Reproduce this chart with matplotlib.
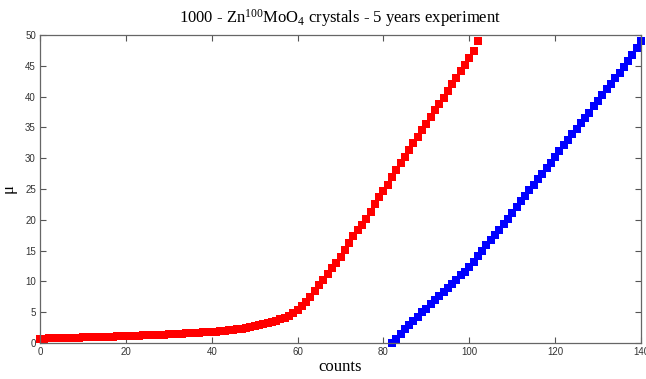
import matplotlib
matplotlib.use("Agg")
import matplotlib.pyplot as plt

# red series: counts 0..102
red_x = list(range(0, 103))
red_y = [0.70, 0.72, 0.74, 0.76, 0.78, 0.80, 0.82, 0.84, 0.86, 0.88,
         0.90, 0.92, 0.94, 0.96, 0.98, 1.00, 1.02, 1.04, 1.06, 1.08,
         1.10, 1.13, 1.16, 1.19, 1.22, 1.25, 1.28, 1.31, 1.34, 1.37,
         1.40, 1.44, 1.48, 1.52, 1.56, 1.60, 1.64, 1.68, 1.72, 1.76,
         1.80, 1.86, 1.92, 1.98, 2.04, 2.10, 2.20, 2.30, 2.42, 2.55,
         2.70, 2.86, 3.03, 3.21, 3.40, 3.60, 3.85, 4.10, 4.40, 4.85,
         5.40, 6.00, 6.70, 7.50, 8.40, 9.40, 10.3, 11.2, 12.1, 13.0,
         14.0, 15.1, 16.2, 17.3, 18.3, 19.2, 20.2, 21.3, 22.5, 23.7,
         24.7, 25.7, 26.9, 28.1, 29.2, 30.2, 31.3, 32.4, 33.5, 34.6,
         35.6, 36.7, 37.8, 38.8, 39.8, 40.9, 42.0, 43.1, 44.1, 45.2,
         46.3, 47.4, 49.0]

# blue series: counts 82..140
blue_x = list(range(82, 141))
blue_y = [0.0, 0.6, 1.5, 2.3, 3.0, 3.6, 4.3, 5.0, 5.6, 6.3,
          6.9, 7.6, 8.3, 8.9, 9.6, 10.3, 11.0, 11.6, 12.4, 13.2,
          14.1, 15.0, 15.9, 16.8, 17.6, 18.4, 19.3, 20.2, 21.1, 22.0,
          23.0, 23.9, 24.8, 25.7, 26.6, 27.4, 28.4, 29.3, 30.2, 31.2,
          32.1, 33.0, 33.9, 34.8, 35.7, 36.5, 37.4, 38.4, 39.3, 40.2,
          41.2, 42.1, 43.0, 43.9, 44.8, 45.7, 46.8, 47.9, 49.0]

xticks = [0, 20, 40, 60, 80, 100, 120, 140]
yticks = [0, 5, 10, 15, 20, 25, 30, 35, 40, 45, 50]

plt.rcParams["mathtext.fontset"] = "custom"
plt.rcParams["mathtext.rm"] = "Liberation Serif"
plt.rcParams["mathtext.it"] = "Liberation Serif"

fig = plt.figure(figsize=(6.46, 3.79), dpi=100)
ax = fig.add_axes([40 / 646, 36 / 379, 601 / 646, 308 / 379])

ax.plot(red_x, red_y, "s", color="#ff0000", markersize=5.2, markeredgewidth=0, clip_on=False)
ax.plot(blue_x, blue_y, "s", color="#0000ff", markersize=5.2, markeredgewidth=0, clip_on=False)

ax.set_xlim(0, 140)
ax.set_ylim(0, 50)
ax.set_xticks(xticks)
ax.set_yticks(yticks)
ax.tick_params(direction="in", top=True, right=True, length=4, width=0.8,
               labelsize=7, colors="#555555", labelcolor="#333333", pad=3)
for s in ax.spines.values():
    s.set_color("#666666")
    s.set_linewidth(0.9)
for lab in ax.get_xticklabels() + ax.get_yticklabels():
    lab.set_family("Liberation Sans")

ax.set_title("1000 - Zn$^{100}$MoO$_{4}$ crystals - 5 years experiment",
             family="Liberation Serif", fontsize=12, pad=9)
ax.set_xlabel("counts", family="Liberation Serif", fontsize=12, labelpad=1)
ax.set_ylabel("μ", family="Liberation Serif", fontsize=12, labelpad=6)

fig.savefig("out.png", dpi=100)
